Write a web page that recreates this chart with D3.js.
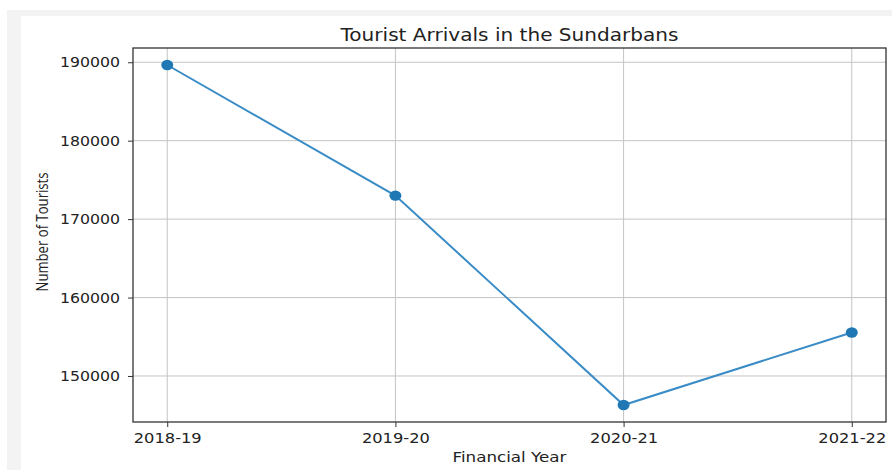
<!DOCTYPE html>
<html>
<head>
<meta charset="utf-8">
<script src="https://cdn.jsdelivr.net/npm/d3@7"></script>
<style>
  body { margin: 0; background: #fff; }
  svg { display: block; }
  .tick text { font-family: "DejaVu Sans", sans-serif; fill: #222; }
</style>
</head>
<body>
<div id="chart"></div>
<script>
var years = ["2018-19", "2019-20", "2020-21", "2021-22"];
var tourists = [189650, 173000, 146300, 155550];
var yTicks = [150000, 160000, 170000, 180000, 190000];

var W = 892, H = 470;
var box = {left: 133, top: 48, right: 886, bottom: 422};

var svg = d3.select("#chart").append("svg")
    .attr("width", W)
    .attr("height", H);

// screenshot frame
svg.append("rect").attr("x", 7).attr("y", 10).attr("width", W - 7).attr("height", H - 10).attr("fill", "#f3f3f3");
svg.append("rect").attr("x", 21).attr("y", 16).attr("width", W - 21).attr("height", H - 16).attr("fill", "#fff");

// matplotlib style 5% margins
var x = d3.scaleLinear()
    .domain([-0.15, years.length - 1 + 0.15])
    .range([box.left, box.right]);

var lo = d3.min(tourists), hi = d3.max(tourists), pad = (hi - lo) * 0.05;
var y = d3.scaleLinear()
    .domain([lo - pad, hi + pad])
    .range([box.bottom, box.top]);

// grid
svg.append("g").selectAll("line").data(years).enter().append("line")
    .attr("x1", function(d, i) { return x(i); })
    .attr("x2", function(d, i) { return x(i); })
    .attr("y1", box.top).attr("y2", box.bottom)
    .attr("stroke", "#c4c4c4").attr("stroke-width", 1);
svg.append("g").selectAll("line").data(yTicks).enter().append("line")
    .attr("x1", box.left).attr("x2", box.right)
    .attr("y1", function(d) { return y(d); })
    .attr("y2", function(d) { return y(d); })
    .attr("stroke", "#c4c4c4").attr("stroke-width", 1);

// axes
var xAxis = d3.axisBottom(x)
    .tickValues(d3.range(years.length))
    .tickFormat(function(i) { return years[i]; })
    .tickSize(5).tickPadding(6).tickSizeOuter(0);
var yAxis = d3.axisLeft(y)
    .tickValues(yTicks)
    .tickFormat(d3.format("d"))
    .tickSize(5).tickPadding(8).tickSizeOuter(0);

svg.append("g")
    .attr("transform", "translate(0," + box.bottom + ")")
    .call(xAxis)
    .call(function(g) {
        g.select(".domain").remove();
        g.selectAll(".tick line").attr("stroke", "#333");
        g.selectAll(".tick text").attr("font-size", 14).attr("textLength", 68).attr("lengthAdjust", "spacingAndGlyphs");
    });
svg.append("g")
    .attr("transform", "translate(" + box.left + ",0)")
    .call(yAxis)
    .call(function(g) {
        g.select(".domain").remove();
        g.selectAll(".tick line").attr("stroke", "#333");
        g.selectAll(".tick text").attr("font-size", 14).attr("textLength", 60).attr("lengthAdjust", "spacingAndGlyphs");
    });

svg.append("rect")
    .attr("x", box.left).attr("y", box.top)
    .attr("width", box.right - box.left).attr("height", box.bottom - box.top)
    .attr("fill", "none").attr("stroke", "#333").attr("stroke-width", 1.3);

// line + markers
var line = d3.line()
    .x(function(d, i) { return x(i); })
    .y(function(d) { return y(d); });

svg.append("path")
    .datum(tourists)
    .attr("d", line)
    .attr("fill", "none")
    .attr("stroke", "#3a8cc6")
    .attr("stroke-width", 2);

svg.append("g").selectAll("ellipse").data(tourists).enter().append("ellipse")
    .attr("cx", function(d, i) { return x(i); })
    .attr("cy", function(d) { return y(d); })
    .attr("rx", 6).attr("ry", 5.2)
    .attr("fill", "#1f77b4");

// labels
svg.append("text")
    .attr("x", (box.left + box.right) / 2).attr("y", 41)
    .attr("text-anchor", "middle")
    .attr("font-family", "DejaVu Sans, sans-serif")
    .attr("font-size", 18)
    .attr("textLength", 338).attr("lengthAdjust", "spacingAndGlyphs")
    .attr("fill", "#222")
    .text("Tourist Arrivals in the Sundarbans");

svg.append("text")
    .attr("x", (box.left + box.right) / 2).attr("y", 462)
    .attr("text-anchor", "middle")
    .attr("font-family", "DejaVu Sans, sans-serif")
    .attr("font-size", 14)
    .attr("textLength", 114).attr("lengthAdjust", "spacingAndGlyphs")
    .attr("fill", "#222")
    .text("Financial Year");

svg.append("text")
    .attr("transform", "translate(48," + 232 + ") rotate(-90)")
    .attr("text-anchor", "middle")
    .attr("font-family", "Open Sans, sans-serif")
    .attr("font-size", 16)
    .attr("textLength", 119).attr("lengthAdjust", "spacingAndGlyphs")
    .attr("fill", "#222")
    .text("Number of Tourists");
</script>
</body>
</html>
